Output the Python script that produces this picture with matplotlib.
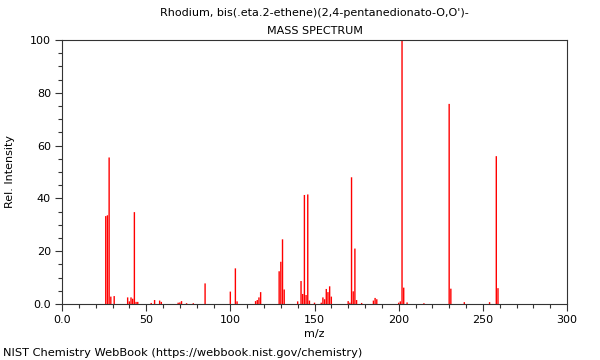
import matplotlib
matplotlib.use("Agg")
import matplotlib.pyplot as plt
from matplotlib.ticker import MultipleLocator, FixedLocator, FixedFormatter

mz = [26, 27, 28, 29, 31, 39, 40, 41, 42, 43, 44, 45, 53, 55, 58, 59, 69,
      70, 71, 74, 78, 85, 100, 103, 104, 115, 116, 117, 118,
      129, 130, 131, 132, 140, 142, 143, 144, 145, 146, 147, 150,
      154, 155, 156, 157, 158, 159, 160, 170, 171, 172, 173, 174, 175, 178,
      185, 186, 187, 200, 201, 202, 203, 205, 215,
      230, 231, 239, 254, 258, 259]
intensity = [33.3, 33.6, 55.5, 2.8, 3.0, 2.5, 1.0, 2.5, 2.0, 34.8, 0.8, 0.8, 0.4, 1.5, 1.3, 0.8, 0.5,
             0.6, 1.1, 0.3, 0.3, 7.8, 4.7, 13.5, 1.0, 1.1, 1.5, 2.5, 4.5,
             12.4, 16.0, 24.5, 5.5, 1.0, 8.7, 3.8, 41.3, 3.4, 41.5, 1.3, 0.5,
             0.5, 2.5, 1.8, 5.7, 4.5, 6.7, 2.8, 1.1, 0.5, 48.0, 4.8, 21.0, 1.5, 0.4,
             1.3, 2.3, 1.8, 0.5, 1.0, 100.0, 6.2, 0.6, 0.3,
             75.8, 5.8, 0.7, 0.7, 56.0, 6.0]

title = "Rhodium, bis(.eta.2-ethene)(2,4-pentanedionato-O,O')-\nMASS SPECTRUM"
xlabel = "m/z"
ylabel = "Rel. Intensity"
footer = "NIST Chemistry WebBook (https://webbook.nist.gov/chemistry)"
xticks = [0, 50, 100, 150, 200, 250, 300]
xticklabels = ["0.0", "50", "100", "150", "200", "250", "300"]
yticks = [0, 20, 40, 60, 80, 100]
yticklabels = ["0.0", "20", "40", "60", "80", "100"]

fig = plt.figure(figsize=(6, 3.6), dpi=100)
ax = fig.add_axes([62/600, 1-304/360, 505/600, 264/360])
ax.vlines(mz, 0, intensity, colors="#ff0000", linewidth=1.0, snap=False)
ax.set_xlim(0, 300)
ax.set_ylim(0, 100)
ax.xaxis.set_major_locator(FixedLocator(xticks))
ax.xaxis.set_major_formatter(FixedFormatter(xticklabels))
ax.yaxis.set_major_locator(FixedLocator(yticks))
ax.yaxis.set_major_formatter(FixedFormatter(yticklabels))
ax.xaxis.set_minor_locator(MultipleLocator(10))
ax.yaxis.set_minor_locator(MultipleLocator(5))
ax.tick_params(which="major", length=5, width=0.8, labelsize=8, color="#333333", pad=3)
ax.tick_params(which="minor", length=3, width=0.8, color="#333333")
for s in ax.spines.values():
    s.set_color("#333333")
    s.set_linewidth(0.8)
ax.set_xlabel(xlabel, fontsize=8, labelpad=3)
ax.set_ylabel(ylabel, fontsize=8, labelpad=11)
ax.set_title(title, fontsize=8, linespacing=2.0, pad=4)
fig.text(3/600, 1-353/360, footer, fontsize=8.2, va="center", ha="left")
fig.savefig("out.png", dpi=100)
